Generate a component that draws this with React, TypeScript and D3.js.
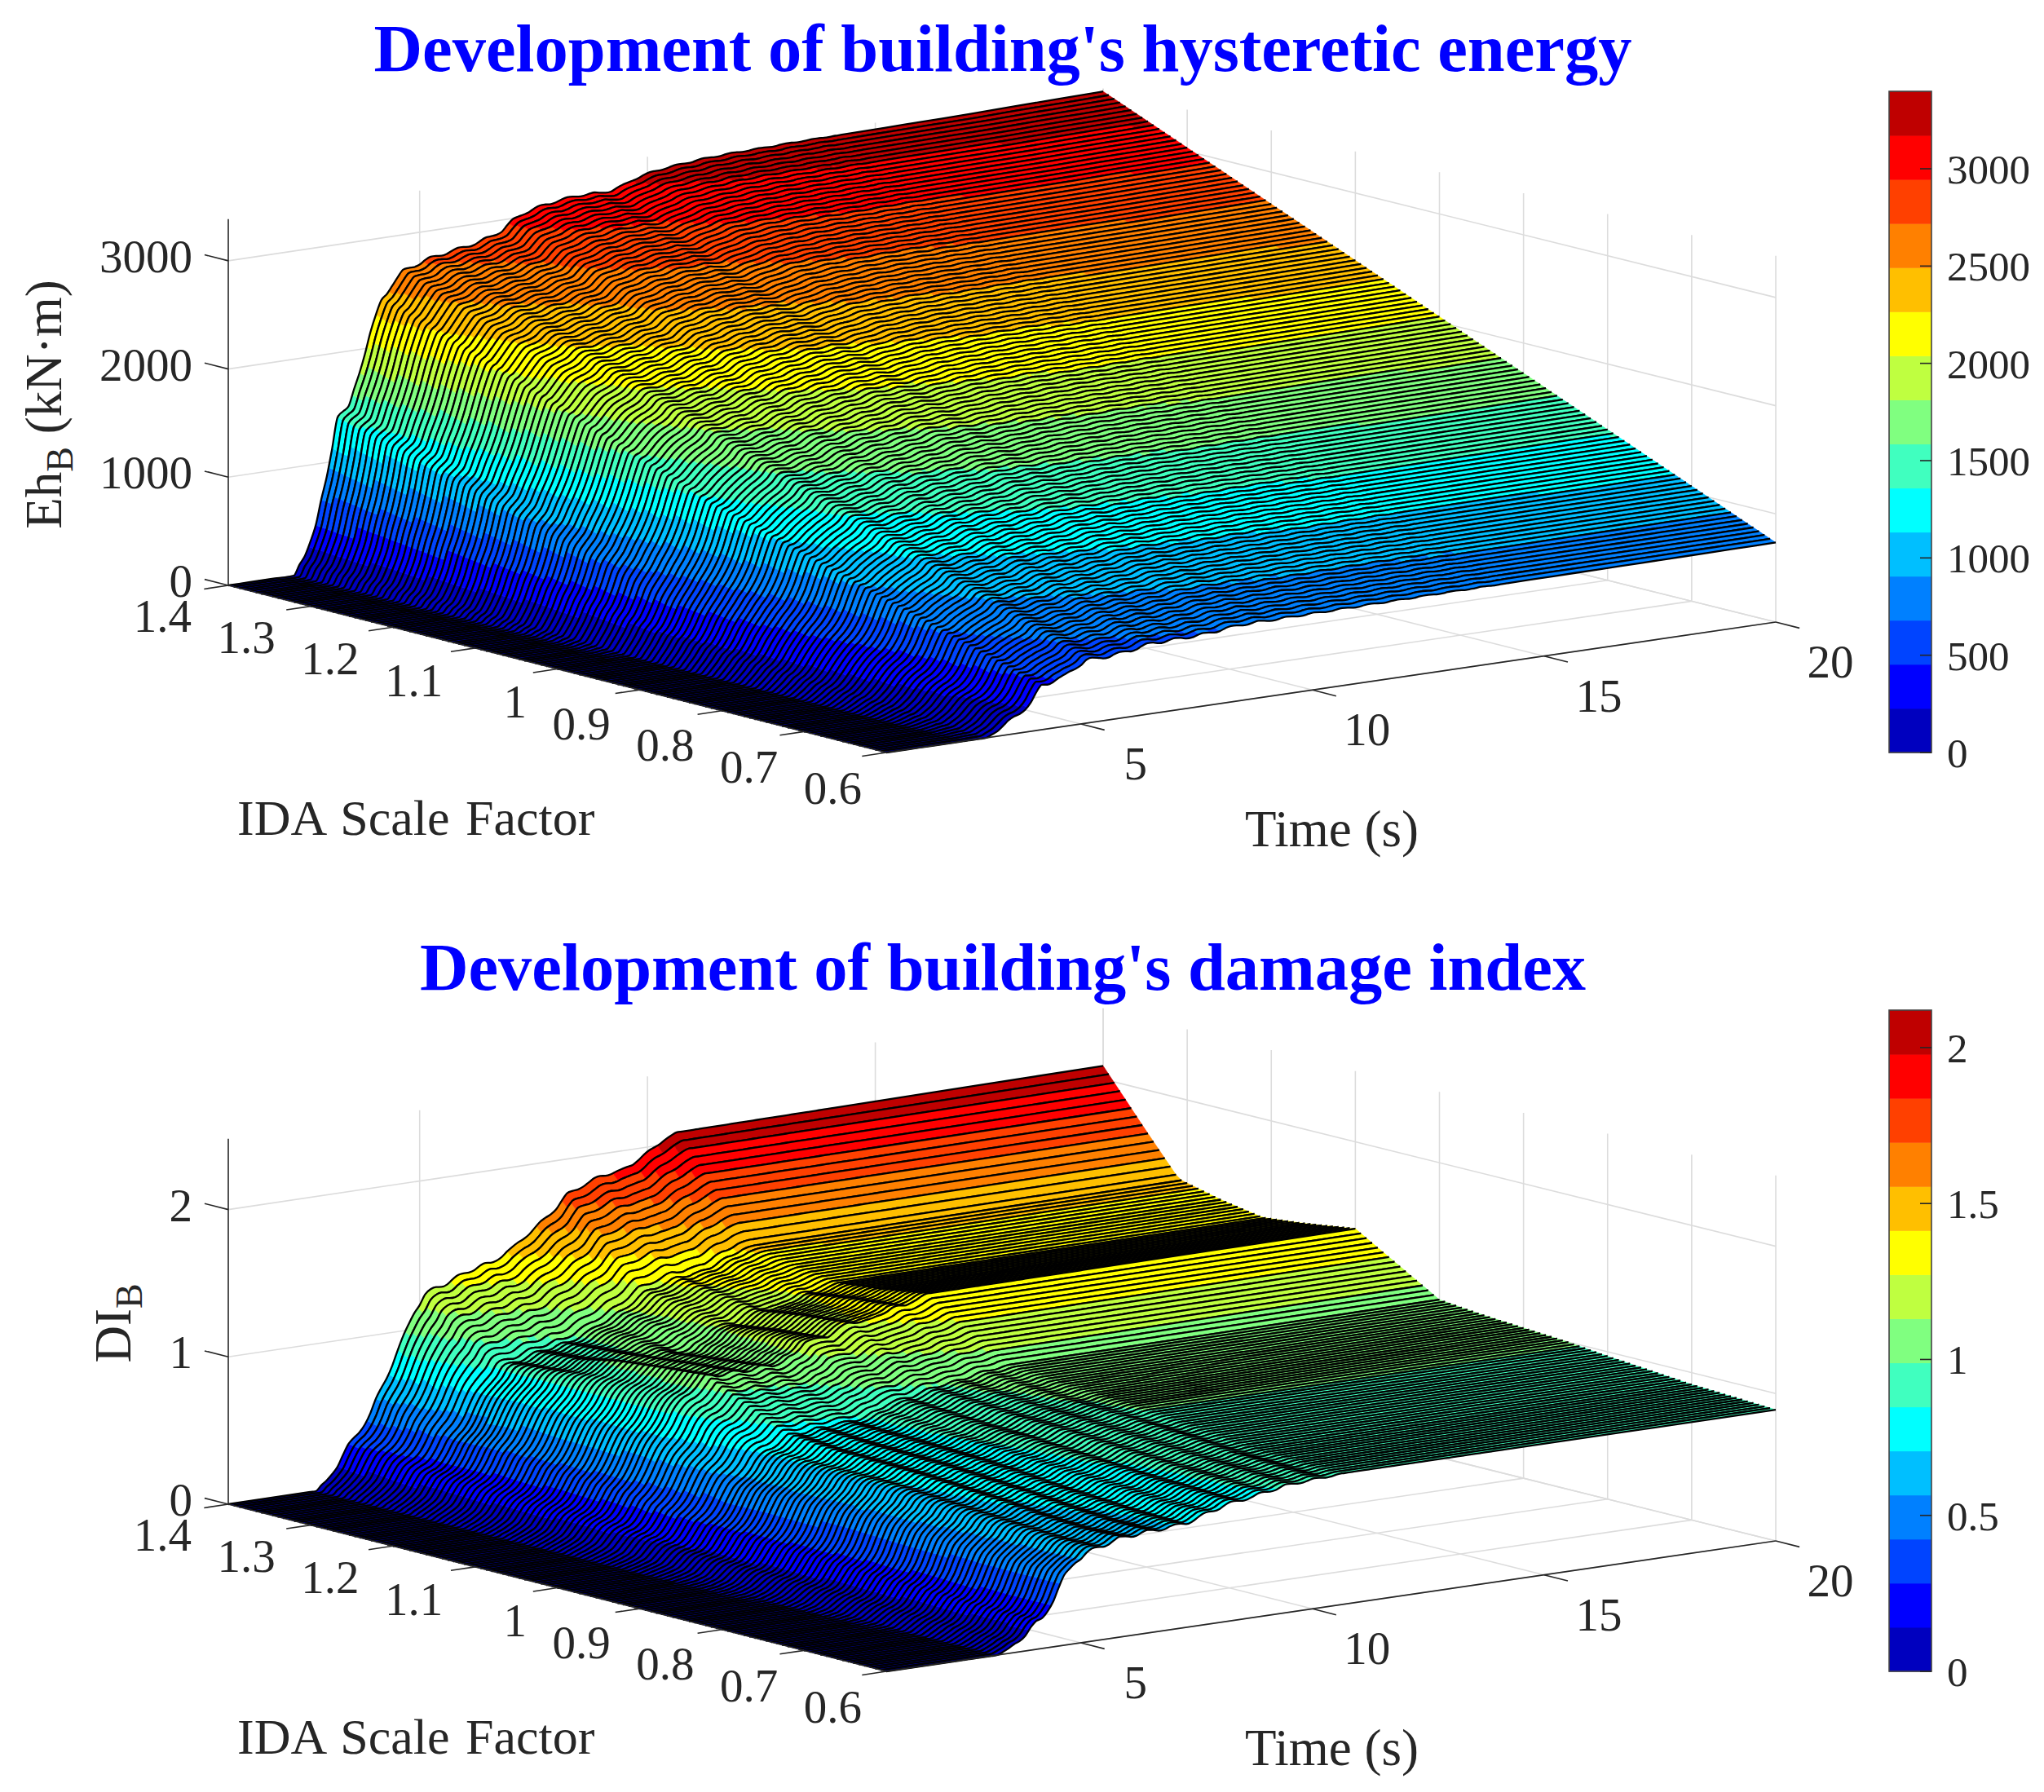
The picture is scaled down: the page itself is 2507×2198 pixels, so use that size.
import React, { useMemo } from 'react';
import * as d3 from 'd3';

// time columns shared by the energy rows
const ehTimes = [0.8,1.28,1.76,2.24,2.48,2.72,2.96,3.2,3.44,3.68,3.92,4.16,4.4,4.64,4.88,5.12,5.36,5.6,5.84,6.08,6.32,6.56,6.8,7.04,7.28,7.52,7.76,8,8.24,8.48,8.72,8.96,9.2,9.44,9.68,9.92,10.16,10.4,10.64,10.88,11.12,11.36,11.6,11.84,12.08,12.32,12.8,13.28,13.76,14.24,15.2,16.16,17.12,18.08,19.04,20];

// hysteretic energy read along three scale factors (kN.m)
const ehScales = [1.4, 1.0, 0.6];
const ehAt14 = [0,0,0,0,180,430,860,1420,1470,1800,2140,2420,2560,2660,2700,2730,2755,2775,2790,2810,2830,2860,2900,2980,3030,3060,3080,3100,3110,3120,3120,3115,3120,3150,3190,3220,3240,3255,3265,3275,3285,3290,3295,3300,3302,3305,3310,3315,3318,3320,3325,3330,3335,3345,3352,3360];
const ehAt10 = [0,0,0,0,0,130,270,500,620,820,1015,1310,1395,1455,1560,1640,1655,1670,1690,1715,1750,1780,1795,1820,1840,1855,1870,1895,1915,1925,1930,1932,1935,1945,1958,1968,1978,1985,1990,1995,2000,2003,2006,2009,2011,2013,2016,2019,2022,2024,2029,2034,2038,2042,2046,2050];
const ehAt06 = [0,0,0,0,0,0,0,50,120,190,260,410,440,460,530,580,585,590,600,615,635,650,652,655,657,660,668,680,692,700,702,703,704,705,706,707,708,709,710,711,712,713,714,715,716,718,720,721,722,723,725,727,729,731,733,735];

// damage index time columns and rows, one row per read scale factor
const diTimes = [0.8,2.72,2.96,3.2,3.44,3.68,3.92,4.16,4.4,4.64,4.88,5.12,5.36,5.6,5.84,6.08,6.32,6.56,6.8,7.04,7.28,7.52,7.76,8,8.24,8.48,8.72,8.96,9.2,9.44,9.68,9.92,10.16,10.4,10.64,20];
const diScales = [1.4,1.35,1.31,1.26,1.21,1.16,1.1,1.05,1,0.95,0.9,0.85,0.8,0.75,0.7,0.65,0.6];
const diRows = [
  [0,0,.06,.16,.27,.37,.47,.63,.79,.95,1.12,1.22,1.26,1.28,1.31,1.34,1.36,1.37,1.41,1.45,1.51,1.56,1.62,1.68,1.76,1.79,1.82,1.85,1.86,1.87,1.90,1.95,1.99,2.04,2.07,2.09],
  [0,0,.05,.13,.22,.31,.39,.52,.66,.79,.93,1.01,1.05,1.07,1.09,1.11,1.13,1.14,1.17,1.21,1.25,1.29,1.34,1.39,1.46,1.49,1.51,1.54,1.55,1.55,1.58,1.62,1.65,1.69,1.72,1.73],
  [0,0,.04,.11,.19,.26,.33,.44,.55,.67,.78,.86,.88,.90,.92,.94,.95,.96,.99,1.02,1.06,1.09,1.13,1.18,1.23,1.25,1.27,1.30,1.30,1.31,1.33,1.37,1.39,1.43,1.44,1.45],
  [0,0,.04,.10,.18,.26,.33,.45,.57,.68,.79,.86,.90,.92,.94,.96,.97,.98,1.00,1.02,1.05,1.08,1.10,1.14,1.18,1.21,1.23,1.26,1.27,1.28,1.30,1.32,1.34,1.36,1.37,1.38],
  [0,0,.03,.09,.16,.24,.31,.42,.54,.66,.77,.86,.92,.97,1.00,1.00,1.00,1.00,1.00,1.00,1.00,1.00,1.05,1.12,1.13,1.14,1.18,1.21,1.21,1.21,1.24,1.27,1.27,1.30,1.32,1.33],
  [0,0,.03,.08,.15,.23,.30,.40,.53,.65,.76,.86,.93,.99,1.03,1.03,1.03,1.03,1.03,1.03,1.03,1.04,1.08,1.16,1.17,1.18,1.21,1.25,1.25,1.25,1.28,1.31,1.31,1.33,1.35,1.36],
  [0,0,.03,.08,.14,.21,.28,.38,.51,.63,.75,.86,.94,1.00,1.06,1.06,1.06,1.06,1.06,1.07,1.07,1.08,1.12,1.20,1.20,1.21,1.25,1.28,1.28,1.28,1.31,1.34,1.34,1.37,1.40,1.41],
  [0,0,.02,.06,.12,.18,.24,.33,.45,.56,.66,.76,.83,.88,.93,.94,.94,.94,.95,.95,.96,.97,1.00,1.06,1.06,1.07,1.10,1.13,1.13,1.14,1.16,1.18,1.19,1.21,1.23,1.24],
  [0,0,.02,.05,.10,.15,.21,.29,.39,.49,.58,.66,.72,.76,.80,.81,.81,.82,.83,.83,.84,.85,.88,.92,.93,.94,.96,.98,.99,1.00,1.01,1.03,1.04,1.05,1.06,1.07],
  [0,0,.01,.04,.09,.14,.20,.28,.39,.50,.59,.66,.71,.74,.77,.78,.79,.80,.81,.82,.83,.84,.87,.90,.91,.92,.94,.96,.97,.98,.99,1.00,1.01,1.02,1.03,1.04],
  [0,0,.01,.04,.08,.13,.19,.27,.38,.50,.60,.67,.71,.74,.76,.77,.78,.79,.80,.81,.82,.83,.85,.88,.89,.90,.92,.94,.95,.96,.97,.98,.99,1.00,1.01,1.02],
  [0,0,0,.03,.07,.12,.18,.26,.37,.50,.61,.68,.71,.73,.75,.76,.77,.78,.79,.80,.81,.82,.84,.87,.88,.89,.91,.93,.94,.95,.96,.97,.98,.99,1.00,1.00],
  [0,0,0,.02,.06,.11,.17,.24,.35,.49,.60,.66,.69,.71,.73,.74,.75,.76,.77,.78,.79,.80,.82,.85,.86,.87,.89,.91,.92,.93,.94,.95,.96,.96,.97,.97],
  [0,0,0,.01,.05,.10,.16,.23,.34,.48,.58,.64,.67,.69,.71,.72,.73,.74,.74,.75,.76,.78,.80,.83,.84,.85,.87,.89,.90,.91,.92,.93,.94,.94,.945,.945],
  [0,0,0,0,.04,.09,.15,.21,.33,.46,.56,.62,.65,.67,.68,.69,.70,.71,.72,.73,.74,.76,.78,.80,.82,.83,.85,.87,.88,.89,.90,.91,.915,.92,.92,.92],
  [0,0,0,0,.03,.08,.14,.20,.32,.46,.55,.60,.63,.65,.66,.67,.68,.69,.70,.71,.72,.74,.76,.79,.81,.82,.84,.86,.87,.88,.89,.895,.90,.90,.905,.905],
  [0,0,0,0,.03,.08,.15,.20,.32,.46,.56,.60,.63,.65,.67,.68,.685,.69,.695,.70,.71,.73,.76,.78,.80,.81,.82,.84,.85,.865,.87,.875,.88,.885,.89,.89],
];

// small wave on the mesh lines, one value every 0.12 s from 2.24 s
const RIPPLE_START = 2.24;
const RIPPLE_STEP = 0.12;
const rippleShape = [
  0,.3,-.8,-.8,.3, 1,.3,-.8,-.8,.3, 1,.3,-.8,-.9,.3, 1,.3,-.8,-.8,.3, .9,.3,-.7,-.7,.3,
  .8,.2,-.6,-.6,.2, .7,.2,-.6,-.6,.2, .7,.2,-.5,-.5,.2, .6,.2,-.5,-.5,.2, .6,.2,-.5,-.5,.2,
  .5,.2,-.4,-.4,.1, .5,.1,-.4,-.4,.1, .4,.1,-.3,-.3,.1, .4,.1,-.3,-.3,.1, .3,.1,-.3,-.3,.1,
  .3,.1,-.2,-.2,.1, .3,.1,-.2,-.2,.1, .2,.1,-.2,-.2,.1, .2,.1,-.2,-.1,0, .2,.1,-.1,-.1,0,
];

// ticks
const scaleTicks = [1.4,1.3,1.2,1.1,1,0.9,0.8,0.7,0.6];
const timeTicks = [5,10,15,20];
const ehTicks = [0,1000,2000,3000];
const diTicks = [0,1,2];
const ehBarTicks = [0,500,1000,1500,2000,2500,3000];
const diBarTicks = [0,0.5,1,1.5,2];

// 15 level jet, as on the colour bars
const jetColors = ['#0000BF','#0000FF','#0044FF','#0080FF','#00BFFF','#00FFFF','#40FFBF','#80FF80','#BFFF40','#FFFF00','#FFBF00','#FF8000','#FF4000','#FF0000','#BF0000'];

const meshScales = d3.range(0, 121).map(i => 1.4 - i * 0.8 / 120);

const SERIF = '"Liberation Serif", "Times New Roman", serif';
const INK = '#262626';
const GRID = '#dcdcdc';

// floor corners of the box in pixels (first panel)
const A = [280, 718], B = [1087, 923], C = [2178, 763], D = [1353, 558];
const PANEL_DY = 1127;

const sToU = d3.scaleLinear().domain([1.4, 0.6]).range([0, 1]);
const tToV = d3.scaleLinear().domain([0.8, 20]).range([0, 1]);

function floor(s: number, t: number) {
  const u = sToU(s), v = tToV(t);
  return [0, 1].map(k =>
    (1 - u) * (1 - v) * A[k] + u * (1 - v) * B[k] + u * v * C[k] + (1 - u) * v * D[k]);
}

function unit(p: number[], q: number[], len: number) {
  const dx = q[0] - p[0], dy = q[1] - p[1], n = Math.hypot(dx, dy);
  return [dx / n * len, dy / n * len];
}

const rippleTimes = rippleShape.map((_, k) => RIPPLE_START + k * RIPPLE_STEP);
const rippleAt = d3.scaleLinear().domain(rippleTimes).range(rippleShape).clamp(true);

// lines of the mesh sampled at every column and at every ripple time
function buildGrid(times: number[], rowScales: number[], rows: number[][], amp: number, soft: number, rippleEnd: number) {
  const sampleTimes = Array.from(new Set([...times, ...rippleTimes.map(t => +t.toFixed(2))])).sort(d3.ascending);
  const acrossScale = rows[0].map((_, j) =>
    d3.scaleLinear().domain(rowScales).range(rows.map(r => r[j])));
  const grid = meshScales.map(s => {
    const alongTime = d3.scaleLinear().domain(times).range(acrossScale.map(c => c(s)));
    return sampleTimes.map(t => {
      const z = alongTime(t);
      const wave = t < rippleEnd ? rippleAt(t) * amp * Math.min(1, z / soft) : 0;
      return Math.max(0, z + wave);
    });
  });
  return { sampleTimes, grid };
}

function Surface({ times, grid, zPx, colorOf }: any) {
  const parts = useMemo(() => {
    const xy = (s: number, t: number, z: number) => {
      const p = floor(s, t);
      return [p[0], p[1] + zPx(z)];
    };
    const lineGen = d3.line().curve(d3.curveMonotoneX);
    const edges = meshScales.map((s, i) => lineGen(times.map((t: number, j: number) => xy(s, t, grid[i][j]))));
    const out: any[] = [];
    for (let i = 0; i < meshScales.length - 1; i++) {
      const s0 = meshScales[i], s1 = meshScales[i + 1];
      let run: any = null;
      const flush = () => {
        if (!run) return;
        out.push(<path key={`f${i}-${out.length}`} d={d3.line()([...run.top, ...run.bot.reverse()]) + 'Z'} fill={run.color} stroke={run.color} strokeWidth={0.6} />);
        run = null;
      };
      for (let j = 0; j < times.length - 1; j++) {
        const t0 = times[j], t1 = times[j + 1];
        const n = Math.ceil((t1 - t0) / 0.06);
        for (let k = 0; k < n; k++) {
          const f0 = k / n, f1 = (k + 1) / n;
          const ta = t0 + (t1 - t0) * f0, tb = t0 + (t1 - t0) * f1;
          const za0 = grid[i][j] + (grid[i][j + 1] - grid[i][j]) * f0;
          const zb0 = grid[i][j] + (grid[i][j + 1] - grid[i][j]) * f1;
          const za1 = grid[i + 1][j] + (grid[i + 1][j + 1] - grid[i + 1][j]) * f0;
          const zb1 = grid[i + 1][j] + (grid[i + 1][j + 1] - grid[i + 1][j]) * f1;
          const color = colorOf((za0 + zb0 + za1 + zb1) / 4);
          if (!run || run.color !== color) {
            flush();
            run = { color, top: [xy(s0, ta, za0)], bot: [xy(s1, ta, za1)] };
          }
          run.top.push(xy(s0, tb, zb0));
          run.bot.push(xy(s1, tb, zb1));
        }
      }
      flush();
      out.push(<path key={`a${i}`} d={edges[i]!} fill="none" stroke="#000" strokeWidth={2.3} strokeLinejoin="round" />);
      out.push(<path key={`b${i}`} d={edges[i + 1]!} fill="none" stroke="#000" strokeWidth={2.3} strokeLinejoin="round" />);
    }
    return out;
  }, [times, grid, zPx, colorOf]);
  return <g>{parts}</g>;
}

function Walls({ zPx, zTicks, zTop }: any) {
  const seg = (p: number[], q: number[], key: string, color = GRID, w = 1.6) => (
    <line key={key} x1={p[0]} y1={p[1]} x2={q[0]} y2={q[1]} stroke={color} strokeWidth={w} />
  );
  const lift = (p: number[], z: number) => [p[0], p[1] + zPx(z)];
  const out: any[] = [];
  zTicks.forEach((z: number) => {
    out.push(seg(lift(A, z), lift(D, z), `zl${z}`));
    out.push(seg(lift(D, z), lift(C, z), `zr${z}`));
  });
  timeTicks.forEach(t => {
    const back = floor(1.4, t), front = floor(0.6, t);
    out.push(seg(back, lift(back, zTop), `tv${t}`));
    out.push(seg(back, front, `tf${t}`));
  });
  scaleTicks.forEach(s => {
    const back = floor(s, 20), front = floor(s, 0.8);
    out.push(seg(back, lift(back, zTop), `sv${s}`));
    out.push(seg(back, front, `sf${s}`));
  });
  return <g>{out}</g>;
}

function Axes({ zPx, zTicks, zTop }: any) {
  const zDir = unit(B, A, 30), sDir = unit(D, A, 30), tDir = unit(A, B, 30);
  const tickStyle = { stroke: INK, strokeWidth: 1.6 };
  const text = { fontFamily: SERIF, fontSize: 57, fill: INK };
  return (
    <g>
      <line x1={A[0]} y1={A[1]} x2={A[0]} y2={A[1] + zPx(zTop)} {...tickStyle} />
      <line x1={A[0]} y1={A[1]} x2={B[0]} y2={B[1]} {...tickStyle} />
      <line x1={B[0]} y1={B[1]} x2={C[0]} y2={C[1]} {...tickStyle} />
      {zTicks.map((z: number) => {
        const y = A[1] + zPx(z);
        return (
          <g key={z}>
            <line x1={A[0]} y1={y} x2={A[0] + zDir[0]} y2={y + zDir[1]} {...tickStyle} />
            <text x={236} y={y - 6} dy="0.35em" textAnchor="end" {...text}>{z}</text>
          </g>
        );
      })}
      {scaleTicks.map(s => {
        const p = floor(s, 0.8);
        return (
          <g key={s}>
            <line x1={p[0]} y1={p[1]} x2={p[0] + sDir[0]} y2={p[1] + sDir[1]} {...tickStyle} />
            <text x={p[0] - 30 - (s - 0.6) * 18.75} y={p[1] + 43 - (s - 0.6) * 8} dy="0.35em" textAnchor="end" {...text}>{s}</text>
          </g>
        );
      })}
      {timeTicks.map(t => {
        const p = floor(0.6, t);
        return (
          <g key={t}>
            <line x1={p[0]} y1={p[1]} x2={p[0] + tDir[0]} y2={p[1] + tDir[1]} {...tickStyle} />
            <text x={p[0] + 67} y={p[1] + 48} dy="0.35em" textAnchor="middle" {...text}>{t}</text>
          </g>
        );
      })}
      <text x={291} y={1024} fontFamily={SERIF} fontSize={62} wordSpacing={4} fill={INK}>IDA Scale Factor</text>
      <text x={1527} y={1038} fontFamily={SERIF} fontSize={63} fill={INK}>Time (s)</text>
    </g>
  );
}

function ColorBar({ max, ticks }: any) {
  const top = 112, bottom = 923, left = 2317, right = 2369;
  const y = d3.scaleLinear().domain([0, max]).range([bottom, top]);
  const bands = d3.scaleBand<number>().domain(d3.range(15)).range([bottom, top]);
  return (
    <g>
      {jetColors.map((c, i) => (
        <rect key={c} x={left} y={bands(i)!} width={right - left} height={bands.bandwidth() + 0.5} fill={c} />
      ))}
      <rect x={left} y={top} width={right - left} height={bottom - top} fill="none" stroke="#444" strokeWidth={1.6} />
      {ticks.map((t: number) => (
        <g key={t}>
          <line x1={right - 14} x2={right} y1={y(t)} y2={y(t)} stroke={INK} strokeWidth={1.6} />
          <text x={2388} y={y(t)} dy="0.35em" fontFamily={SERIF} fontSize={51} fill={INK}>{t}</text>
        </g>
      ))}
    </g>
  );
}

const ehPx = d3.scaleLinear().domain([0, 1000]).range([0, -132.7]);
const diPx = d3.scaleLinear().domain([0, 1]).range([0, -180.7]);
const ehColor = d3.scaleQuantize<string>().domain([0, 3398]).range(jetColors);
const diColor = d3.scaleQuantize<string>().domain([0, 2.12]).range(jetColors);

export default function App() {
  const eh = useMemo(() => buildGrid(ehTimes, ehScales, [ehAt14, ehAt10, ehAt06], 20, 200, 20), []);
  const di = useMemo(() => buildGrid(diTimes, diScales, diRows, 0.018, 0.15, 10.5), []);
  const titleStyle = { textAnchor: 'middle', fontFamily: SERIF, fontWeight: 'bold', fontSize: 82.5, fill: '#0000FF' } as any;
  return (
    <svg width={2507} height={2198} style={{ position: 'absolute', left: 0, top: 0, background: '#fff' }}>
      <text x={1230} y={87} {...titleStyle}>Development of building's hysteretic energy</text>
      <Walls zPx={ehPx} zTicks={ehTicks} zTop={3385} />
      <Surface times={eh.sampleTimes} grid={eh.grid} zPx={ehPx} colorOf={ehColor} />
      <Axes zPx={ehPx} zTicks={ehTicks} zTop={3385} />
      <ColorBar max={3398} ticks={ehBarTicks} />
      <text transform="translate(75,496) rotate(-90)" textAnchor="middle" fontFamily={SERIF} fontSize={63} fill={INK}>
        Eh<tspan dy={14} fontSize={46}>B</tspan><tspan dy={-14}> (kN·m)</tspan>
      </text>

      <g transform={`translate(0,${PANEL_DY})`}>
        <text x={1230} y={87} {...titleStyle}>Development of building's damage index</text>
        <Walls zPx={diPx} zTicks={diTicks} zTop={2.48} />
        <Surface times={di.sampleTimes} grid={di.grid} zPx={diPx} colorOf={diColor} />
        <Axes zPx={diPx} zTicks={diTicks} zTop={2.48} />
        <ColorBar max={2.12} ticks={diBarTicks} />
        <text transform="translate(160,496) rotate(-90)" textAnchor="middle" fontFamily={SERIF} fontSize={63} fill={INK}>
          DI<tspan dy={14} fontSize={46}>B</tspan>
        </text>
      </g>
    </svg>
  );
}
